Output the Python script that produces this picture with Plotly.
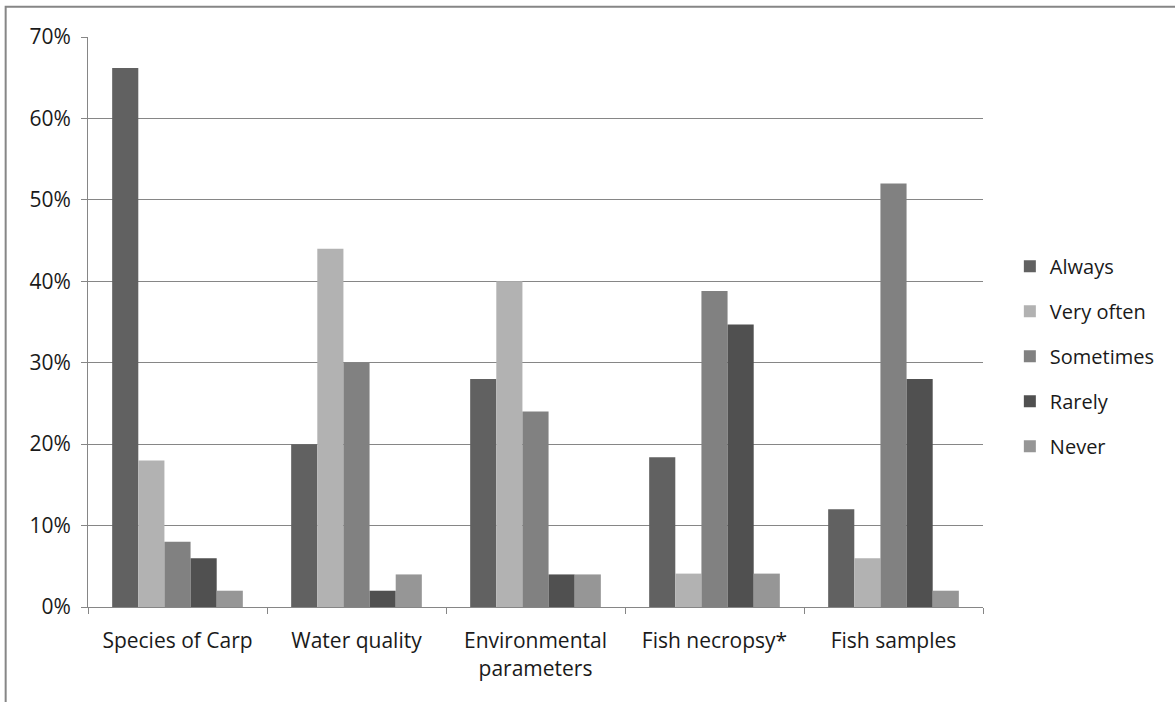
import plotly.graph_objects as go

categories = ["Species of Carp", "Water quality", "Environmental<br>parameters", "Fish necropsy*", "Fish samples"]
series_names = ["Always", "Very often", "Sometimes", "Rarely", "Never"]
always = [66.2, 20, 28, 18.4, 12]
very_often = [18, 44, 40, 4.1, 6]
sometimes = [8, 30, 24, 38.8, 52]
rarely = [6, 2, 4, 34.7, 28]
never = [2, 4, 4, 4.1, 2]
colors = ["#616161", "#b2b2b2", "#818181", "#505050", "#969696"]
y_ticks = [0, 10, 20, 30, 40, 50, 60, 70]

FONT = "Open Sans"
fig = go.Figure()
for i, (name, vals) in enumerate(zip(series_names, [always, very_often, sometimes, rarely, never])):
    fig.add_trace(go.Bar(
        x=categories, y=[v / 100 for v in vals], name=name,
        marker=dict(color=colors[i], line=dict(width=0)),
        legendgroup=name,
    ))

fig.update_layout(
    width=1175, height=702,
    margin=dict(l=88, r=192, t=37, b=95),
    paper_bgcolor="white", plot_bgcolor="white",
    barmode="group", bargap=0.27, bargroupgap=0,
    font=dict(family=FONT, size=20, color="#1a1a1a"),
    legend=dict(x=1.03, y=0.44, xanchor="left", yanchor="middle",
                traceorder="grouped", tracegroupgap=16,
                font=dict(size=20), itemwidth=30),
    xaxis=dict(type="category", showline=True, linecolor="#868686", linewidth=1,
               ticks="outside", tickson="boundaries", ticklen=6, tickcolor="#868686",
               tickfont=dict(size=21), ticklabelstandoff=15, showgrid=False),
    yaxis=dict(range=[0, 0.70], tickvals=[t / 100 for t in y_ticks],
               ticktext=[f"{t}%" for t in y_ticks],
               showline=True, linecolor="#868686", linewidth=1,
               ticks="outside", ticklen=6, tickcolor="#868686",
               showgrid=True, gridcolor="#868686", gridwidth=1,
               tickfont=dict(size=21), ticklabelstandoff=6, zeroline=False),
    shapes=[dict(type="rect", xref="paper", yref="paper",
                 x0=-0.092, x1=1.25, y0=-0.3, y1=1.053,
                 line=dict(color="#868686", width=2), fillcolor="rgba(0,0,0,0)", layer="below")],
)
fig.write_html("out.html")
